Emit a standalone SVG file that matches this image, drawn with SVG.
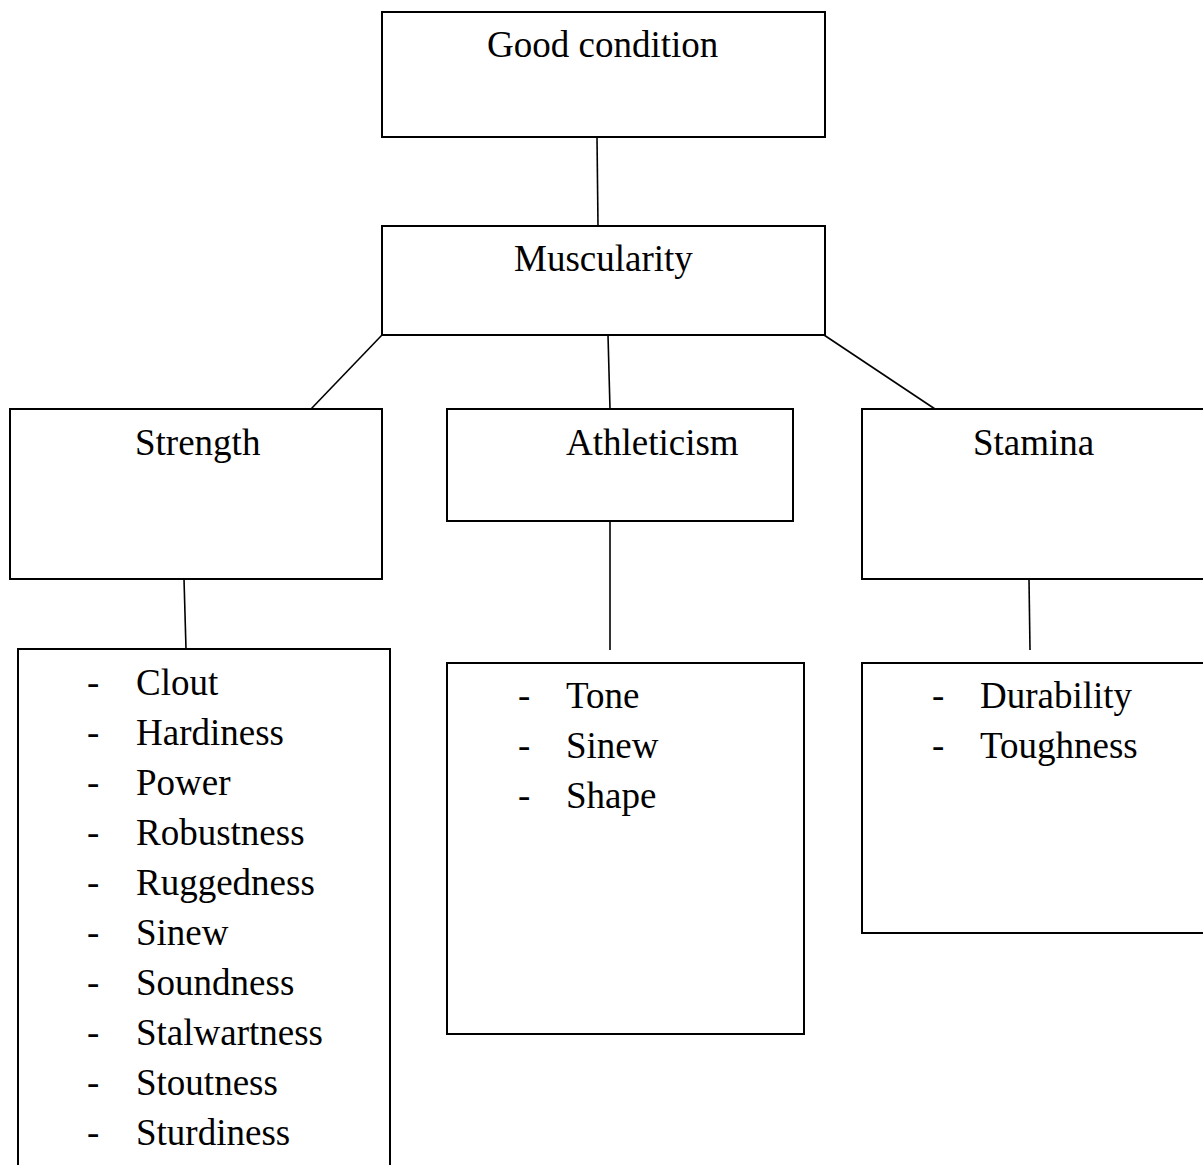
<svg xmlns="http://www.w3.org/2000/svg" width="1203" height="1165" viewBox="0 0 1203 1165">
<style>
.box{fill:#fff;stroke:#000;stroke-width:2}
.conn line{stroke:#000;stroke-width:1.6}
text{font-family:"Liberation Serif","Times New Roman",serif;font-size:37px;fill:#000}
</style>
<rect width="1203" height="1165" fill="#fff"/>
<g id="connectors" class="conn">
<line x1="597" y1="137" x2="598" y2="226"/>
<line x1="608" y1="335" x2="610" y2="409"/>
<line x1="382" y1="335" x2="311" y2="409"/>
<line x1="824" y1="335" x2="935" y2="409"/>
<line x1="184" y1="579" x2="186" y2="649"/>
<line x1="610" y1="521" x2="610" y2="650"/>
<line x1="1029" y1="579" x2="1030" y2="650"/>
</g>
<g id="good-condition">
<rect class="box" x="382" y="12" width="443" height="125"/>
<text x="487" y="57">Good condition</text>
</g>
<g id="muscularity">
<rect class="box" x="382" y="226" width="443" height="109"/>
<text x="514" y="271">Muscularity</text>
</g>
<g id="strength">
<rect class="box" x="10" y="409" width="372" height="170"/>
<text x="135" y="455">Strength</text>
</g>
<g id="athleticism">
<rect class="box" x="447" y="409" width="346" height="112"/>
<text x="566" y="455">Athleticism</text>
</g>
<g id="stamina">
<rect class="box" x="862" y="409" width="345" height="170"/>
<text x="973" y="455">Stamina</text>
</g>
<g id="strength-list">
<rect class="box" x="18" y="649" width="372" height="530"/>
<text x="87" y="695">-</text><text x="136" y="695">Clout</text>
<text x="87" y="745">-</text><text x="136" y="745">Hardiness</text>
<text x="87" y="795">-</text><text x="136" y="795">Power</text>
<text x="87" y="845">-</text><text x="136" y="845">Robustness</text>
<text x="87" y="895">-</text><text x="136" y="895">Ruggedness</text>
<text x="87" y="945">-</text><text x="136" y="945">Sinew</text>
<text x="87" y="995">-</text><text x="136" y="995">Soundness</text>
<text x="87" y="1045">-</text><text x="136" y="1045">Stalwartness</text>
<text x="87" y="1095">-</text><text x="136" y="1095">Stoutness</text>
<text x="87" y="1145">-</text><text x="136" y="1145">Sturdiness</text>
</g>
<g id="athleticism-list">
<rect class="box" x="447" y="663" width="357" height="371"/>
<text x="518" y="708">-</text><text x="566" y="708">Tone</text>
<text x="518" y="758">-</text><text x="566" y="758">Sinew</text>
<text x="518" y="808">-</text><text x="566" y="808">Shape</text>
</g>
<g id="stamina-list">
<rect class="box" x="862" y="663" width="345" height="270"/>
<text x="932" y="708">-</text><text x="980" y="708">Durability</text>
<text x="932" y="758">-</text><text x="980" y="758">Toughness</text>
</g>
</svg>
